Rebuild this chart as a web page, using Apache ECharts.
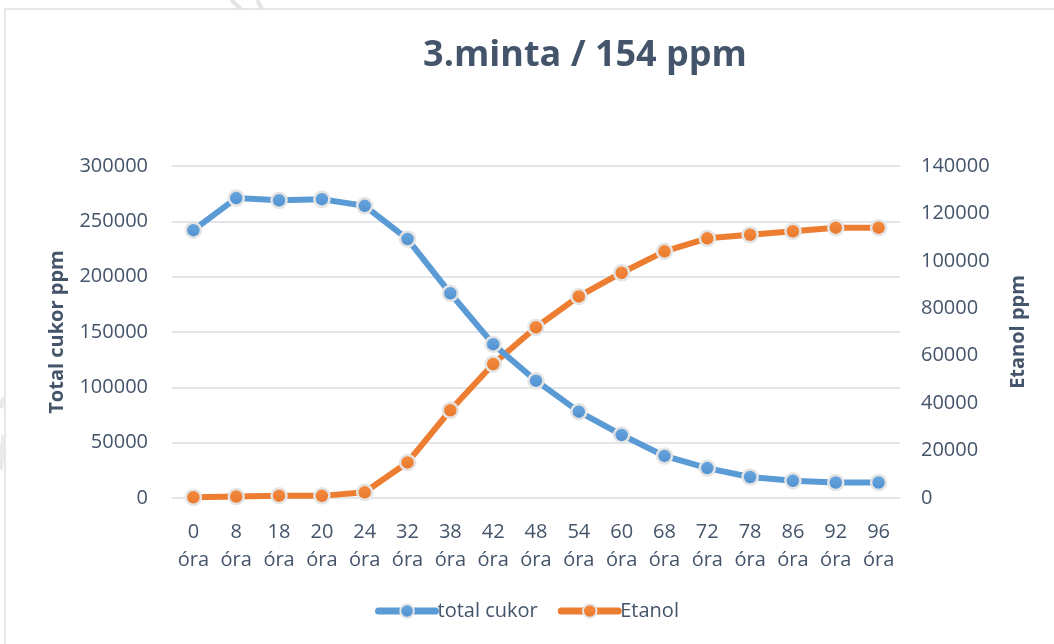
<!DOCTYPE html>
<html>
<head>
<meta charset="utf-8">
<script src="https://cdn.jsdelivr.net/npm/echarts@6/dist/echarts.min.js"></script>
<style>
  html, body { margin: 0; padding: 0; background: #ffffff; }
  #chart { width: 1054px; height: 644px; }
</style>
</head>
<body>
<div id="chart"></div>
<script>
// Sampling times (hours)
const hours = [0, 8, 18, 20, 24, 32, 38, 42, 48, 54, 60, 68, 72, 78, 86, 92, 96];
const categories = hours.map(h => h + '\nóra');

// Total sugar (ppm), left axis
const totalCukor = [242000, 271000, 269000, 270000, 264000, 234000, 185000, 139000, 106000,
                    78000, 57000, 38000, 27000, 19000, 15500, 14000, 14000];
// Ethanol (ppm), right axis
const etanol = [300, 600, 1000, 900, 2400, 15000, 37000, 56500, 72000,
                85000, 95000, 104000, 109500, 111000, 112500, 114000, 114000];

// Axis scales
const leftAxis = { min: 0, max: 300000, interval: 50000 };
const rightAxis = { min: 0, max: 140000, interval: 20000 };

const textColor = '#44546A';
const gridColor = '#D9DDE3';
const fontFamily = 'Open Sans, Lato, sans-serif';
const plainNumber = v => String(v);

function marker(color, light) {
  return {
    color: {
      type: 'linear', x: 0, y: 0, x2: 0, y2: 1,
      colorStops: [{ offset: 0, color: light }, { offset: 1, color: color }]
    },
    borderColor: '#E4E4E4',
    borderWidth: 2.5
  };
}

const chart = echarts.init(document.getElementById('chart'), null, { renderer: 'canvas' });
chart.setOption({
  backgroundColor: '#ffffff',
  animation: false,
  textStyle: { fontFamily: fontFamily },
  title: {
    text: '3.minta / 154 ppm',
    left: 580,
    top: 33,
    textAlign: 'center',
    textStyle: { color: textColor, fontSize: 36, fontWeight: 'bold', fontFamily: fontFamily }
  },
  graphic: [
    {
      type: 'rect',
      shape: { x: 5, y: 9, width: 1100, height: 700 },
      style: { fill: 'none', stroke: '#DDDFE5', lineWidth: 1.5 },
      silent: true, z: -1
    },
    {
      type: 'polyline',
      shape: { points: [[231, 0], [241, 9]] },
      style: { stroke: '#E3E3E3', lineWidth: 4 },
      silent: true, z: -1
    },
    {
      type: 'polyline',
      shape: { points: [[257, 0], [262, 9]] },
      style: { stroke: '#E3E3E3', lineWidth: 4 },
      silent: true, z: -1
    },
    {
      type: 'polyline',
      shape: { points: [[4, 398], [0, 408]] },
      style: { stroke: '#EAEAEA', lineWidth: 5 },
      silent: true, z: -1
    },
    {
      type: 'polyline',
      shape: { points: [[4, 435], [0, 470]] },
      style: { stroke: '#EAEAEA', lineWidth: 5 },
      silent: true, z: -1
    }
  ],
  legend: {
    bottom: 18,
    left: 'center',
    itemGap: 20,
    itemWidth: 57,
    itemHeight: 17,
    lineStyle: { width: 7, cap: 'round' },
    textStyle: { color: textColor, fontSize: 20, fontFamily: fontFamily, padding: [0, 0, 0, -3] },
    data: ['total cukor', 'Etanol']
  },
  grid: { left: 172, right: 154, top: 166, bottom: 146 },
  xAxis: {
    type: 'category',
    data: categories,
    boundaryGap: true,
    axisLine: { show: false },
    axisTick: { show: false },
    axisLabel: { color: textColor, fontSize: 20, lineHeight: 28, margin: 20, interval: 0, fontFamily: fontFamily }
  },
  yAxis: [
    {
      type: 'value',
      min: leftAxis.min, max: leftAxis.max, interval: leftAxis.interval,
      name: 'Total cukor ppm',
      nameLocation: 'middle',
      nameGap: 105,
      nameRotate: 90,
      nameTextStyle: { color: textColor, fontSize: 20, fontWeight: 'bold', fontFamily: fontFamily },
      axisLine: { show: false },
      axisTick: { show: false },
      axisLabel: { color: textColor, fontSize: 20, margin: 24, fontFamily: fontFamily, formatter: plainNumber },
      splitLine: { lineStyle: { color: gridColor, width: 1.5 } }
    },
    {
      type: 'value',
      position: 'right',
      min: rightAxis.min, max: rightAxis.max, interval: rightAxis.interval,
      name: 'Etanol ppm',
      nameLocation: 'middle',
      nameGap: 108,
      nameRotate: 90,
      nameTextStyle: { color: textColor, fontSize: 20, fontWeight: 'bold', fontFamily: fontFamily },
      axisLine: { show: false },
      axisTick: { show: false },
      axisLabel: { color: textColor, fontSize: 20, margin: 21, fontFamily: fontFamily, formatter: plainNumber },
      splitLine: { show: false }
    }
  ],
  series: [
    {
      name: 'total cukor',
      type: 'line',
      yAxisIndex: 0,
      data: totalCukor,
      symbol: 'circle',
      symbolSize: 15,
      lineStyle: { color: '#5B9BD5', width: 6, join: 'round', cap: 'round' },
      itemStyle: marker('#4F8FCF', '#6AA8E0'),
      color: '#5B9BD5',
      z: 3
    },
    {
      name: 'Etanol',
      type: 'line',
      yAxisIndex: 1,
      data: etanol,
      symbol: 'circle',
      symbolSize: 15,
      lineStyle: { color: '#ED7D31', width: 6, join: 'round', cap: 'round' },
      itemStyle: marker('#E8762A', '#F58D42'),
      color: '#ED7D31',
      z: 2
    }
  ]
});
</script>
</body>
</html>
